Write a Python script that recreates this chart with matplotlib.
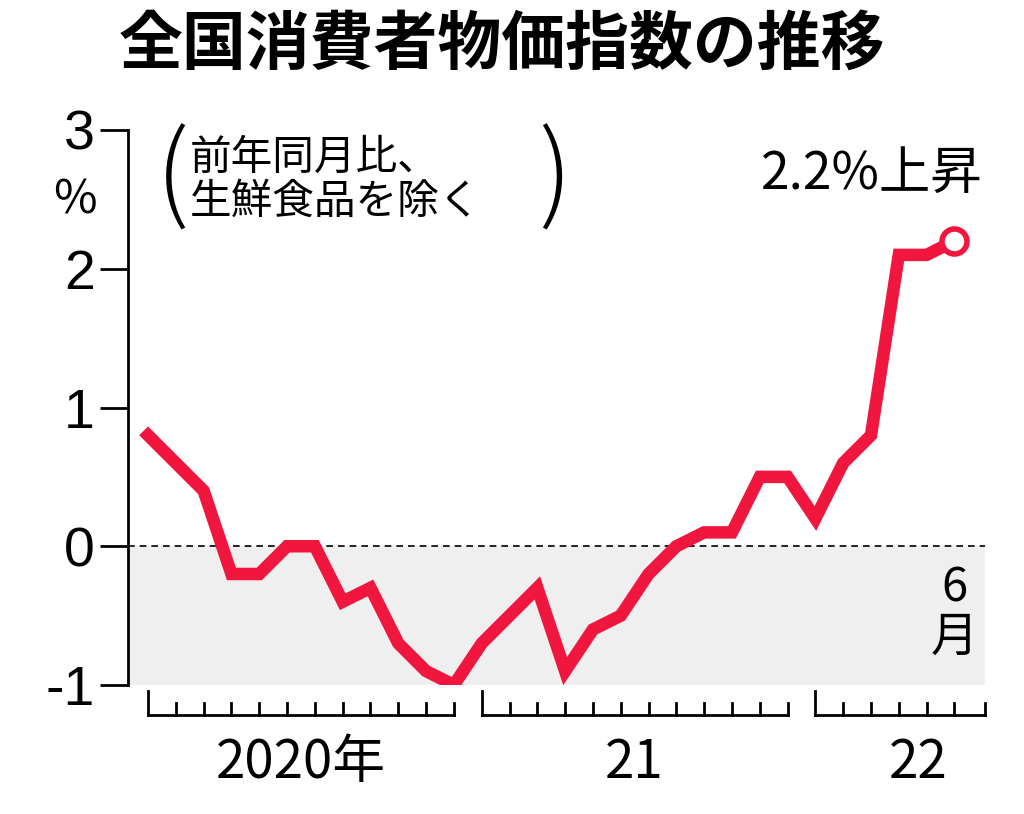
import matplotlib.pyplot as plt

plt.rcParams["font.family"] = "Noto Sans CJK JP"

# Monthly values, Jan 2020 - Jun 2022 (% y/y, excl. fresh food)
values_2020 = [0.8, 0.6, 0.4, -0.2, -0.2, 0.0, 0.0, -0.4, -0.3, -0.7, -0.9, -1.0]
values_2021 = [-0.7, -0.5, -0.3, -0.9, -0.6, -0.5, -0.2, 0.0, 0.1, 0.1, 0.5, 0.5]
values_2022 = [0.2, 0.6, 0.8, 2.1, 2.1, 2.2]
year_labels = ["2020年", "21", "22"]
y_ticks = [-1, 0, 1, 2, 3]

values = values_2020 + values_2021 + values_2022
months = list(range(len(values)))
red = "#f0163e"

fig = plt.figure(figsize=(10.24, 8.14), dpi=100)
ax = fig.add_axes([128 / 1024, 1 - 685 / 814, 857 / 1024, 555 / 814])
ax.set_xlim(-0.72, 30.1)
ax.set_ylim(-1, 3)

ax.axhspan(-1, 0, color="#efefef", zorder=0)
ax.axhline(0, color="black", lw=1.2, ls=(0, (4, 3)), zorder=1)
ax.plot(months, values, color=red, lw=9, solid_joinstyle="miter", zorder=3)
ax.plot(months[-1], values[-1], "o", ms=18, mfc="white", mec=red, mew=4, zorder=4)

for s in ["top", "right", "bottom"]:
    ax.spines[s].set_visible(False)
ax.spines["left"].set_linewidth(2)
ax.set_xticks([])
ax.set_yticks(y_ticks)
ax.set_yticklabels([str(t) for t in y_ticks], fontsize=40, fontfamily="Liberation Sans")
ax.tick_params(axis="y", length=20, width=2, pad=4)

# bottom month ruler, one segment per year
segments = [(0, 11, 11.0), (12, 23, 23.0), (24, 29, 30.1)]
y_base = -1.217
for (a, b, end), lab in zip(segments, year_labels):
    ax.plot([a, end], [y_base, y_base], color="black", lw=2, clip_on=False)
    for m in range(a, b + 1):
        top = -1.04 if m == a else -1.13
        ax.plot([m, m], [y_base, top], color="black", lw=2, clip_on=False)
    if b == 29:
        ax.plot([end, end], [y_base, -1.13], color="black", lw=2, clip_on=False)
    ax.text((a + b) / 2 if b != 29 else 27.7, -1.56, lab, ha="center", va="center",
            fontsize=38)

fig.text(0.49, 0.945, "全国消費者物価指数の推移", ha="center", va="center",
         fontsize=46, fontweight="bold")
fig.text(75 / 1024, 1 - 200 / 814, "%", ha="center", va="center", fontsize=34)
fig.text(190 / 1024, 1 - 180 / 814, "前年同月比、\n生鮮食品を除く", ha="left", va="center",
         fontsize=30, linespacing=1.1)
fig.text(172 / 1024, 1 - 180 / 814, "(", ha="center", va="center", fontsize=76,
         fontweight="light")
fig.text(555 / 1024, 1 - 180 / 814, ")", ha="center", va="center", fontsize=76,
         fontweight="light")
ax.text(30.0, 2.68, "2.2%上昇", ha="right", va="center", fontsize=37)
ax.text(29.0, -0.48, "6\n月", ha="center", va="center", fontsize=34, linespacing=1.0)

plt.savefig("out.png", dpi=100)
